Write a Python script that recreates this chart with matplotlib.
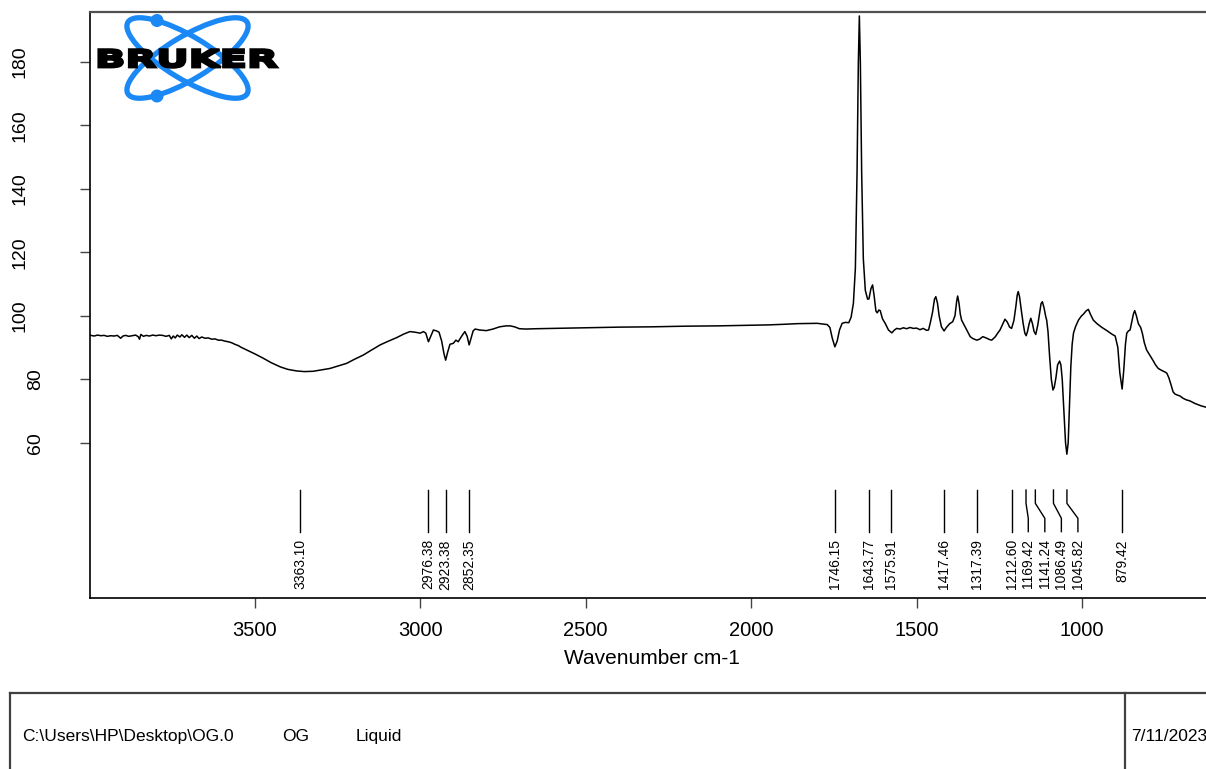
import matplotlib
matplotlib.use("Agg")
import matplotlib.pyplot as plt
from matplotlib.patches import Ellipse, Circle, PathPatch
from matplotlib.textpath import TextPath
from matplotlib.font_manager import FontProperties
from matplotlib.transforms import Affine2D, blended_transform_factory

plt.rcParams["font.family"] = ["Liberation Sans", "DejaVu Sans"]

# spectrum (wavenumber cm-1, intensity)
wavenumber = [
    3995, 3985, 3975, 3965, 3955, 3945, 3935, 3925, 3915, 3905, 3898, 3890, 3880, 3870,
    3860, 3852, 3848, 3844, 3836, 3828, 3818, 3808, 3798, 3788, 3778, 3768, 3758, 3752,
    3746, 3740, 3734, 3726, 3720, 3712, 3705, 3698, 3690, 3682, 3675, 3668, 3660, 3650,
    3640, 3630, 3620, 3610, 3600, 3590, 3580, 3570, 3560, 3550, 3540, 3524, 3500, 3474,
    3450, 3423, 3400, 3373, 3350, 3323, 3300, 3272, 3250, 3222, 3200, 3172, 3150, 3121,
    3100, 3071, 3050, 3031, 3015, 3000, 2990, 2983, 2975, 2968, 2960, 2950, 2943, 2935,
    2928, 2923, 2917, 2910, 2900, 2892, 2885, 2875, 2865, 2858, 2852, 2846, 2840, 2834,
    2820, 2800, 2780, 2760, 2740, 2728, 2715, 2700, 2680, 2650, 2600, 2517, 2400, 2300,
    2200, 2100, 2000, 1950, 1900, 1860, 1800, 1770, 1762, 1755, 1747, 1740, 1733, 1725,
    1715, 1705, 1698, 1691, 1685, 1680, 1676, 1673, 1670, 1666, 1661, 1655, 1648, 1644,
    1638, 1633, 1628, 1623, 1619, 1614, 1610, 1603, 1595, 1585, 1575, 1567, 1560, 1550,
    1540, 1530, 1520, 1510, 1500, 1490, 1480, 1470, 1464, 1459, 1452, 1446, 1442, 1437,
    1432, 1425, 1417, 1410, 1400, 1391, 1384, 1379, 1376, 1372, 1368, 1364, 1355, 1345,
    1338, 1330, 1318, 1310, 1300, 1290, 1280, 1273, 1262, 1255, 1248, 1240, 1233, 1226,
    1219, 1213, 1206, 1200, 1196, 1193, 1189, 1184, 1178, 1173, 1169, 1165, 1160, 1155,
    1150, 1145, 1140, 1134, 1128, 1124, 1120, 1115, 1110, 1107, 1103, 1098, 1093, 1088,
    1084, 1079, 1074, 1068, 1064, 1060, 1055, 1050, 1046, 1042, 1038, 1034, 1030, 1026,
    1020, 1011, 1003, 995, 988, 981, 975, 966, 955, 940, 925, 910, 900, 892,
    886, 879, 874, 869, 865, 860, 855, 850, 845, 841, 836, 830, 823, 818,
    812, 805, 795, 785, 778, 770, 760, 750, 744, 738, 732, 725, 719, 712,
    704, 695, 685, 675, 669, 660, 650, 640, 626,
]
intensity = [
    93.8, 93.6, 93.9, 93.7, 93.8, 93.5, 93.7, 93.6, 93.8, 92.9, 93.6, 93.8, 93.5, 93.7,
    93.9, 93.4, 92.6, 94.1, 93.5, 93.8, 93.6, 93.9, 93.7, 93.9, 93.8, 93.5, 93.8, 92.7,
    93.6, 93.0, 93.9, 93.3, 94.0, 93.2, 93.9, 93.1, 93.8, 92.9, 93.6, 92.8, 93.3, 92.9,
    93.0, 92.6, 92.7, 92.3, 92.3, 92.0, 91.8, 91.5, 91.0, 90.6, 90.0, 89.2, 88.0, 86.6,
    85.2, 83.9, 83.1, 82.6, 82.4, 82.5, 82.9, 83.4, 84.1, 85.0, 86.2, 87.6, 89.0, 90.8,
    91.8, 93.1, 94.2, 95.0, 94.8, 94.5, 95.0, 94.5, 91.8, 93.5, 95.5, 95.2, 94.8, 92.0,
    88.0, 86.0, 88.5, 91.0, 91.3, 92.3, 91.8, 93.5, 95.0, 93.5, 90.8, 93.0, 95.2, 95.8,
    95.5, 95.3, 95.8, 96.5, 96.8, 96.8, 96.5, 95.9, 95.8, 95.9, 96.0, 96.2, 96.4, 96.5,
    96.7, 96.8, 97.0, 97.1, 97.3, 97.5, 97.6, 97.2, 96.3, 93.0, 90.2, 92.0, 95.5, 97.6,
    97.9, 97.8, 99.5, 103.9, 115.0, 145.0, 180.0, 194.4, 180.0, 145.0, 118.0, 108.0, 105.2, 105.3,
    108.5, 109.7, 106.0, 101.5, 100.9, 101.8, 101.6, 99.0, 97.6, 95.5, 94.6, 95.5, 96.0, 95.8,
    96.2, 95.9, 96.3, 96.0, 96.1, 95.6, 96.0, 95.4, 95.5, 97.6, 101.0, 105.2, 106.0, 104.0,
    100.0, 96.5, 95.2, 96.3, 97.5, 98.1, 100.0, 104.5, 106.2, 104.0, 100.5, 98.6, 96.8, 94.8,
    93.4, 92.8, 92.3, 92.6, 93.4, 93.0, 92.5, 92.3, 93.4, 94.5, 95.5, 97.3, 98.9, 98.0,
    96.4, 96.0, 98.5, 103.0, 106.5, 107.6, 106.0, 102.0, 97.5, 94.5, 93.7, 95.0, 97.5, 99.2,
    97.5, 95.0, 94.1, 97.0, 101.0, 103.8, 104.4, 102.5, 99.8, 98.6, 95.0, 87.0, 80.0, 76.6,
    77.5, 80.5, 84.5, 85.7, 84.5, 80.0, 70.0, 60.0, 56.4, 60.0, 72.0, 84.0, 91.0, 94.5,
    96.5, 98.6, 99.8, 100.6, 101.5, 102.0, 100.5, 98.6, 97.5, 96.3, 95.3, 94.2, 93.6, 90.0,
    82.0, 76.9, 83.0, 91.0, 94.5, 95.2, 95.5, 98.0, 100.5, 101.6, 100.0, 97.5, 96.3, 94.5,
    91.5, 89.2, 87.5, 85.8, 84.5, 83.4, 82.8, 82.3, 81.9, 80.5, 78.5, 76.0, 75.3, 75.0,
    74.7, 74.0, 73.5, 73.2, 72.9, 72.4, 72.0, 71.6, 71.2,
]

peak_labels = [3363.10, 2976.38, 2923.38, 2852.35, 1746.15, 1643.77, 1575.91,
               1417.46, 1317.39, 1212.60, 1169.42, 1141.24, 1086.49, 1045.82, 879.42]

x_ticks = [3500, 3000, 2500, 2000, 1500, 1000]
y_ticks = [60, 80, 100, 120, 140, 160, 180]

footer_left = ["C:\\Users\\HP\\Desktop\\OG.0", "OG", "Liquid"]
footer_date = "7/11/2023"

W, H = 1206, 769
fig = plt.figure(figsize=(W / 100, H / 100), dpi=100)

# main axes, right edge cut off by the page like the original printout
ax = fig.add_axes([90.3 / W, 1 - 598.3 / H, (W - 90.3) / W, (598.3 - 12) / H])
ax.plot(wavenumber, intensity, color="black", lw=1.1)
ax.set_xlim(3996.7, 625.6)
ax.set_ylim(11.0, 195.65)

ax.spines["right"].set_visible(False)
ax.spines["top"].set_color("#505050")
ax.spines["top"].set_linewidth(1.6)
for side in ("left", "bottom"):
    ax.spines[side].set_linewidth(1.2)

ax.set_xticks(x_ticks)
ax.set_xticklabels([str(t) for t in x_ticks], fontsize=14.5)
ax.tick_params(axis="x", direction="out", length=7, width=1, color="#444444", pad=9)
ax.set_yticks(y_ticks)
ax.set_yticklabels([])
ax.tick_params(axis="y", direction="out", length=7.5, width=1, color="#444444")

# y labels are rotated and sit further left when they are longer
ytrans = blended_transform_factory(fig.transFigure, ax.transData)
for t in y_ticks:
    s = str(t)
    xc = 35.5 - 15.0 * (len(s) - 2)
    ax.text(xc / W, t, s, transform=ytrans, rotation=90, ha="center", va="center",
            fontsize=14)

fig.text(652 / W, 1 - 658 / H, "Wavenumber cm-1", ha="center", va="center", fontsize=15)

# peak picking marks: spread labels apart so they never overlap
min_gap = 50.0
label_pos = []
for wn in peak_labels:
    pos = wn
    if label_pos and label_pos[-1] - pos < min_gap:
        pos = label_pos[-1] - min_gap
    label_pos.append(pos)

for wn, pos in zip(peak_labels, label_pos):
    ax.plot([wn, wn, pos, pos], [45.1, 40.9, 36.2, 32.0], color="black", lw=1.0)
    ax.text(pos, 29.6, f"{wn:.2f}", rotation=90, ha="center", va="top", fontsize=10)

# overlay in pixel coordinates for the logo and footer box
ov = fig.add_axes([0, 0, 1, 1], zorder=5)
ov.set_xlim(0, W)
ov.set_ylim(H, 0)
ov.axis("off")
ov.patch.set_alpha(0)

blue = "#1a88f5"
for ang in (31, -31):
    ov.add_patch(Ellipse((187.5, 58), 139, 43, angle=ang, fill=False, ec=blue, lw=3.8))
for cy in (20.5, 96.0):
    ov.add_patch(Circle((157, cy), 5.8, color=blue))

tp = TextPath((0, 0), "BRUKER", size=1,
              prop=FontProperties(family="DejaVu Sans", weight="bold"))
v = tp.vertices
xmin, xmax = v[:, 0].min(), v[:, 0].max()
ymin, ymax = v[:, 1].min(), v[:, 1].max()
tr = (Affine2D().translate(-xmin, -ymin)
      .scale((277 - 95) / (xmax - xmin), -(67.5 - 49.5) / (ymax - ymin))
      .translate(95, 67.5))
ov.add_patch(PathPatch(tr.transform_path(tp), fc="black", ec="black", lw=1.8, zorder=6))

box_kw = dict(color="#404040", lw=1.6)
ov.plot([10, W + 5], [692.7, 692.7], **box_kw)
ov.plot([10, 10], [692.7, H + 5], **box_kw)
ov.plot([1124.7, 1124.7], [692.7, H + 5], **box_kw)

for txt, x in zip(footer_left, [22, 282, 356]):
    ov.text(x, 741, txt, ha="left", va="baseline", fontsize=12.5)
ov.text(1131, 741, footer_date, ha="left", va="baseline", fontsize=12.5)

fig.savefig("out.png", dpi=100)
